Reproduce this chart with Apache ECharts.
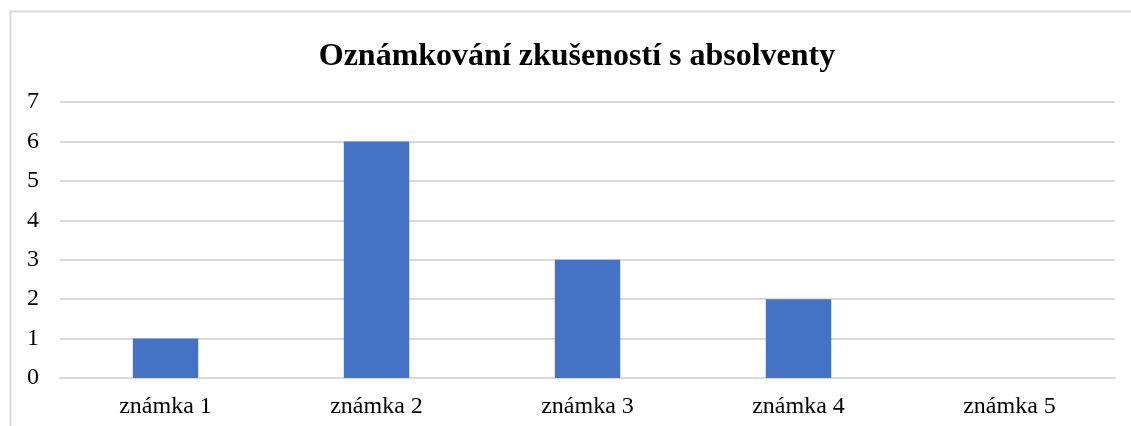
<!DOCTYPE html>
<html><head><meta charset="utf-8">
<script src="https://cdn.jsdelivr.net/npm/echarts@6/dist/echarts.min.js"></script>
<style>html,body{margin:0;padding:0;background:#fff}#c{width:1131px;height:426px}</style>
</head><body><div id="c"></div>
<script>
const categories = ['známka 1','známka 2','známka 3','známka 4','známka 5'];
const values = [1, 6, 3, 2, 0];
const chart = echarts.init(document.getElementById('c'));
chart.setOption({
  animation: false,
  graphic: [{type:'rect', shape:{x:10.5,y:11.5,width:1140,height:430}, style:{fill:'none', stroke:'#d9d9d9', lineWidth:2}, silent:true}],
  title: {text:'Oznámkování zkušeností s absolventy', left:572, top:36, textAlign:'center',
    textStyle:{fontFamily:'Liberation Serif', fontSize:32, fontWeight:'bold', color:'#000'}},
  grid: {left:60, right:16, top:102, bottom:48, containLabel:false},
  xAxis: {type:'category', data:categories,
    axisLine:{lineStyle:{color:'#d9d9d9', width:2}}, axisTick:{show:false},
    axisLabel:{fontFamily:'Liberation Serif', fontSize:24, color:'#000', margin:17}},
  yAxis: {type:'value', min:0, max:7, interval:1,
    axisLine:{show:false}, axisTick:{show:false},
    splitLine:{lineStyle:{color:'#d9d9d9', width:2}},
    axisLabel:{fontFamily:'Liberation Serif', fontSize:24, color:'#000', margin:21}},
  series: [{type:'bar', data:values, barWidth:'31%', itemStyle:{color:'#4472C4'}}]
});
</script></body></html>
